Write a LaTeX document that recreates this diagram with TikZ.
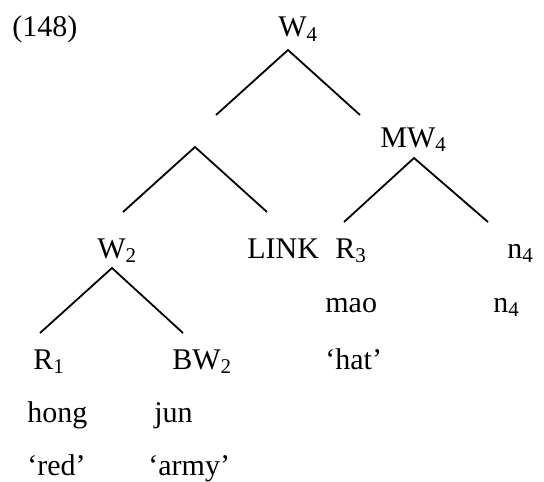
\documentclass[tikz,border=0pt]{standalone}
\usepackage{fontspec}
\setmainfont{Liberation Serif}
\newcommand{\lsub}[1]{\textsubscript{#1}}

\begin{document}
\begin{tikzpicture}[x=0.5pt, y=-0.5pt,
    every node/.style={inner sep=0pt, anchor=base west, font=\fontsize{15pt}{18pt}\selectfont},
    branch/.style={line width=0.9pt}]
    \useasboundingbox (0,0) rectangle (544,481);
    \node (ex) at (12,37) {(148)};
    % labelled nodes
    \node (w4) at (278,37) {W\lsub{4}};
    \node (mw4) at (380,147) {MW\lsub{4}};
    \node (w2) at (97,258) {W\lsub{2}};
    \node (link) at (247,258) {LINK};
    \node (r3) at (335,258) {R\lsub{3}};
    \node (n4) at (507,258) {n\lsub{4}};
    \node (mao) at (325,312) {mao};
    \node (n4b) at (493,312) {n\lsub{4}};
    \node (r1) at (33,369) {R\lsub{1}};
    \node (bw2) at (172,369) {BW\lsub{2}};
    \node (hat) at (325,369) {`hat'};
    \node (hong) at (27,422) {hong};
    \node (jun) at (154,422) {jun};
    \node (red) at (27,475) {`red'};
    \node (army) at (148,475) {`army'};
    % branch ends
    \coordinate (w4-top) at (288,50);
    \coordinate (w4-l) at (216,115);
    \coordinate (w4-r) at (360,115);
    \coordinate (x-top) at (195,147);
    \coordinate (x-l) at (123,212);
    \coordinate (x-r) at (267,212);
    \coordinate (mw4-top) at (414,158);
    \coordinate (mw4-l) at (344,222);
    \coordinate (mw4-r) at (488,222);
    \coordinate (w2-top) at (112,268);
    \coordinate (w2-l) at (40,333);
    \coordinate (w2-r) at (183,333);
    \draw[branch] (w4-l) -- (w4-top) -- (w4-r);
    \draw[branch] (x-l) -- (x-top) -- (x-r);
    \draw[branch] (mw4-l) -- (mw4-top) -- (mw4-r);
    \draw[branch] (w2-l) -- (w2-top) -- (w2-r);
\end{tikzpicture}
\end{document}
